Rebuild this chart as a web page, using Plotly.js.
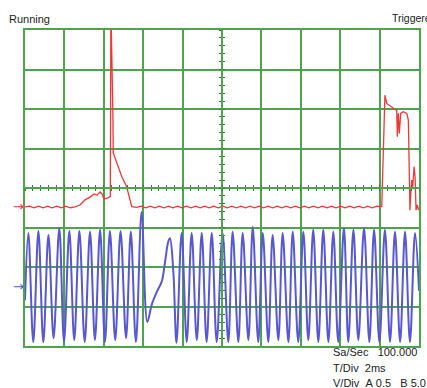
<!DOCTYPE html>
<html>
<head>
<meta charset="utf-8">
<script src="https://cdn.plot.ly/plotly-3.0.1.min.js"></script>
<style>html,body{margin:0;padding:0;background:#fff;}#chart{width:427px;height:388px;}</style>
</head>
<body>
<div id="chart"></div>
<script>
// Time in ms (T/Div = 2 ms), amplitude in screen divisions (8 divisions tall, centre = 0)
var redTime = [0, 0.23, 0.46, 0.69, 0.92, 1.15, 1.38, 1.61, 1.84, 2.07, 2.30,
  2.54, 2.79, 3.05, 3.30, 3.50, 3.65, 3.81, 3.91, 4.01, 4.21, 4.33,
  4.36, 4.43, 4.46, 4.48, 4.65, 4.91, 5.16, 5.33, 5.42, 5.67,
  5.90, 6.13, 6.36, 6.59, 6.82, 7.05, 7.28, 7.51, 7.74, 7.97, 8.20, 8.43, 8.66, 8.89,
  9.12, 9.35, 9.58, 9.81, 10.04, 10.27, 10.50, 10.73, 10.96, 11.19, 11.42, 11.65, 11.88,
  12.11, 12.34, 12.57, 12.80, 13.03, 13.26, 13.49, 13.72, 13.95, 14.18, 14.41, 14.64,
  14.87, 15.10, 15.33, 15.56, 15.79, 16.02, 16.25, 16.48, 16.71, 16.94, 17.17, 17.40,
  17.63, 17.86, 18.11,
  18.20, 18.27, 18.36, 18.61, 18.87, 18.90, 18.95, 19.00, 19.07, 19.20, 19.38, 19.46,
  19.51, 19.54, 19.59, 19.63, 19.68, 19.75, 19.80, 19.85, 19.91, 19.98];
var redValue = [-0.48, -0.46, -0.50, -0.46, -0.50, -0.46, -0.50, -0.46, -0.50, -0.46, -0.50,
  -0.48, -0.43, -0.30, -0.23, -0.15, -0.18, -0.10, -0.15, -0.28, -0.25, -0.22,
  4.6, 3.2, 1.9, 0.89, 0.63, 0.29, 0.03, -0.35, -0.47, -0.49,
  -0.46, -0.50, -0.46, -0.50, -0.46, -0.50, -0.46, -0.50, -0.46, -0.50, -0.46, -0.50, -0.46, -0.50,
  -0.46, -0.50, -0.46, -0.50, -0.46, -0.50, -0.46, -0.50, -0.46, -0.50, -0.46, -0.50, -0.46,
  -0.50, -0.46, -0.50, -0.46, -0.50, -0.46, -0.50, -0.46, -0.50, -0.46, -0.50, -0.46,
  -0.50, -0.46, -0.50, -0.46, -0.50, -0.46, -0.50, -0.46, -0.50, -0.46, -0.50, -0.46,
  -0.50, -0.46, -0.47,
  0.96, 2.35, 2.14, 2.06, 1.96, 1.30, 1.89, 1.38, 1.89, 1.93, 1.89, 1.72,
  0.20, -0.56, -0.05, 0.20, 0.03, 0.54, 0.29, -0.56, -0.43, -0.56];

var blueTime = [0, 0.17, 0.42, 0.68, 0.93, 1.19, 1.45, 1.74, 1.98, 2.25,
  2.50, 2.76, 3.03, 3.30, 3.55, 3.81, 4.06, 4.31, 4.58, 4.85,
  5.13, 5.37, 5.63, 5.92, 6.21, 6.43, 6.69, 6.94, 7.11, 7.27,
  7.36, 7.53, 7.69, 7.95, 8.21, 8.46, 8.72, 8.97, 9.22, 9.48,
  9.73, 10.03, 10.32, 10.54, 10.83, 11.05, 11.34, 11.56, 11.84, 12.07,
  12.35, 12.57, 12.86, 13.08, 13.37, 13.59, 13.87, 14.13, 14.38, 14.63,
  14.89, 15.14, 15.40, 15.65, 15.90, 16.19, 16.41, 16.67, 16.92, 17.21,
  17.48, 17.72, 17.99, 18.27, 18.53, 18.78, 19.04, 19.29, 19.54, 19.80,
  20.0];
var blueValue = [-2.84, -1.14, -3.90, -1.09, -3.90, -1.19, -3.80, -1.01, -3.90, -1.09,
  -3.85, -1.09, -3.90, -1.11, -3.85, -1.06, -3.90, -1.09, -3.85, -1.09,
  -3.80, -1.11, -3.90, -0.61, -3.39, -2.96, -2.63, -2.37, -1.87, -1.36,
  -1.27, -2.12, -3.92, -1.14, -3.90, -1.14, -3.85, -1.14, -3.90, -1.14,
  -3.90, -1.14, -3.90, -1.11, -3.90, -1.14, -3.85, -0.99, -3.90, -1.14,
  -3.90, -1.19, -3.85, -1.14, -3.90, -1.11, -3.90, -1.11, -3.85, -1.06,
  -3.90, -1.06, -3.90, -1.11, -3.90, -1.01, -3.90, -1.06, -3.85, -1.01,
  -3.90, -1.06, -3.90, -1.06, -3.90, -1.11, -3.90, -1.11, -3.90, -1.14,
  -2.6];

var channelMarkers = [-0.48, -2.5];   // ground reference arrows (red A, blue B)
var statusLeft = "Running";
var statusRight = "Triggered";
var infoLines = ["Sa/Sec\u00a0\u00a0\u00a0100.000", "T/Div\u00a0\u00a02ms", "V/Div\u00a0\u00a0A\u00a00.5\u00a0\u00a0\u00a0B\u00a05.0"];

var green = "#4fa34f";
var darkGreen = "#2f7f2f";
var textFont = {family: "Liberation Sans, Arial, sans-serif", size: 11, color: "#222"};

var traces = [
  {x: blueTime, y: blueValue, type: "scatter", mode: "lines",
   line: {color: "#5858d0", width: 2, shape: "spline", smoothing: 1}, hoverinfo: "skip"},
  {x: redTime, y: redValue, type: "scatter", mode: "lines",
   line: {color: "#ee3838", width: 1.3}, hoverinfo: "skip"},
  // empty traces so that the centre-line axes (with their graticule ticks) are drawn
  {x: [], y: [], type: "scatter", mode: "lines", xaxis: "x2", yaxis: "y2", hoverinfo: "skip"},
  {x: [], y: [], type: "scatter", mode: "lines", xaxis: "x3", yaxis: "y3", hoverinfo: "skip"}
];

var baseX = {range: [0, 20], dtick: 2, tick0: 0, showgrid: true, gridcolor: green, gridwidth: 2,
  showline: true, mirror: true, linecolor: green, linewidth: 2, zeroline: false,
  showticklabels: false, ticks: "", fixedrange: true};
var baseY = {range: [-4, 4], dtick: 1, tick0: -4, showgrid: true, gridcolor: green, gridwidth: 2,
  showline: true, mirror: true, linecolor: green, linewidth: 2, zeroline: false,
  showticklabels: false, ticks: "", fixedrange: true};

function centreX(side) {
  return {overlaying: "x", anchor: "free", position: 0.5, range: [0, 20], tick0: 0, dtick: 0.4,
    ticks: side, ticklen: 2, tickwidth: 1, tickcolor: darkGreen, showline: true, linecolor: green,
    linewidth: 2, showgrid: false, zeroline: false, showticklabels: false, fixedrange: true};
}
function centreY(side) {
  return {overlaying: "y", anchor: "free", position: 0.5, range: [-4, 4], tick0: -4, dtick: 0.2,
    ticks: side, ticklen: 2, tickwidth: 1, tickcolor: darkGreen, showline: true, linecolor: green,
    linewidth: 2, showgrid: false, zeroline: false, showticklabels: false, fixedrange: true};
}

var annotations = [
  {text: statusLeft, xref: "paper", yref: "paper", x: -0.046, y: 1.035, xanchor: "left", yanchor: "middle", showarrow: false, font: textFont},
  {text: statusRight, xref: "paper", yref: "paper", x: 0.926, y: 1.038, xanchor: "left", yanchor: "middle", showarrow: false,
   font: {family: "Liberation Sans, Arial, sans-serif", size: 10.5, color: "#222"}},
  {text: infoLines[0], xref: "paper", yref: "paper", x: 0.777, y: -0.019, xanchor: "left", yanchor: "middle", showarrow: false, font: textFont},
  {text: infoLines[1], xref: "paper", yref: "paper", x: 0.777, y: -0.070, xanchor: "left", yanchor: "middle", showarrow: false, font: textFont},
  {text: infoLines[2], xref: "paper", yref: "paper", x: 0.777, y: -0.118, xanchor: "left", yanchor: "middle", showarrow: false, font: textFont},
  {text: "\u2192", xref: "paper", yref: "y", x: 0.002, y: channelMarkers[0], xanchor: "right", yanchor: "middle", showarrow: false,
   font: {family: "DejaVu Sans", size: 13, color: "#ee3838"}},
  {text: "\u2192", xref: "paper", yref: "y", x: 0.002, y: channelMarkers[1], xanchor: "right", yanchor: "middle", showarrow: false,
   font: {family: "DejaVu Sans", size: 13, color: "#5858d0"}}
];

var layout = {
  width: 427, height: 388,
  margin: {l: 25, r: 8, t: 30, b: 42, pad: 0},
  paper_bgcolor: "#ffffff", plot_bgcolor: "#ffffff",
  showlegend: false,
  xaxis: baseX, yaxis: baseY,
  xaxis2: centreX("outside"), xaxis3: centreX("inside"),
  yaxis2: centreY("outside"), yaxis3: centreY("inside"),
  annotations: annotations
};

Plotly.newPlot("chart", traces, layout, {staticPlot: true, displayModeBar: false});
</script>
</body>
</html>
